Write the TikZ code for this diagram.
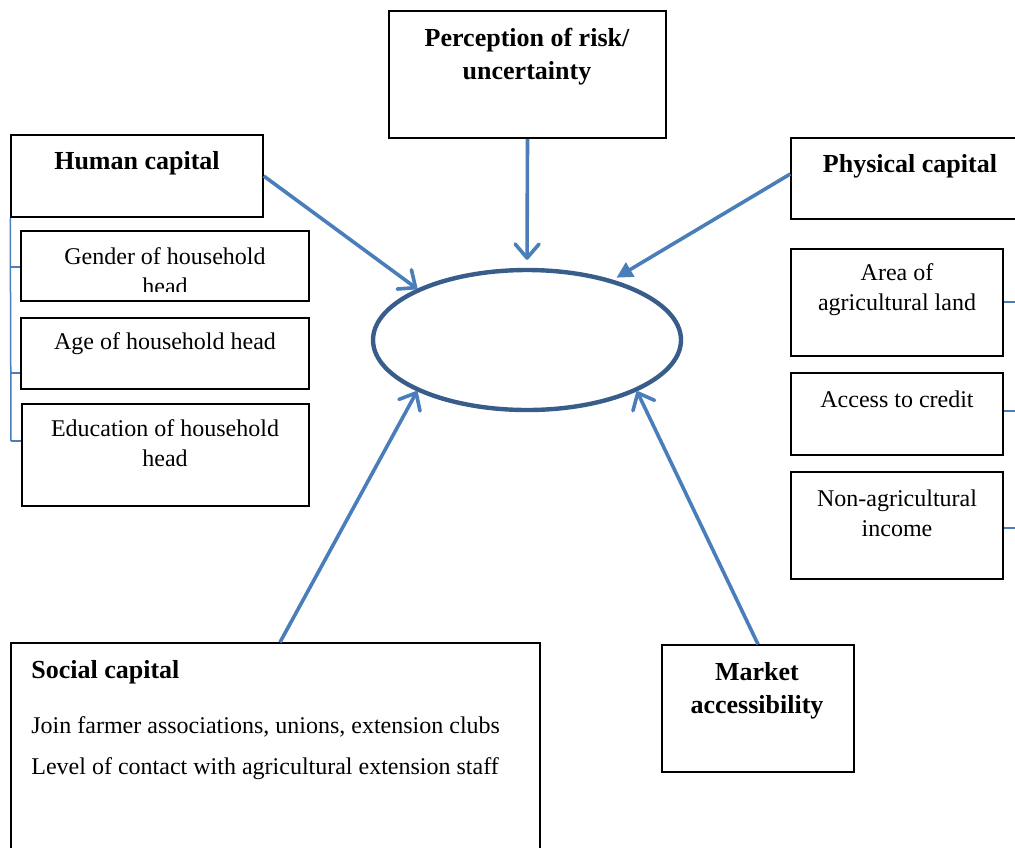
\documentclass[tikz,border=0pt]{standalone}
\usepackage{fontspec}
\setmainfont{Liberation Serif}
\usetikzlibrary{arrows.meta, positioning, fit, shapes.geometric}
\definecolor{arrowblue}{HTML}{4A7EBB}
\definecolor{ringblue}{HTML}{385D8A}

\begin{document}
\begin{tikzpicture}[
    x=0.5pt, y=-0.5pt,
    box/.style={draw, line width=0.75pt, inner sep=0pt},
    head/.style={font=\fontsize{13}{16.5}\selectfont\bfseries, align=center, inner sep=0pt},
    item/.style={font=\fontsize{12}{15}\selectfont, align=center, inner sep=0pt},
    link/.style={draw=arrowblue, line width=1.8pt, -{Straight Barb[length=7pt, width=12pt, round]}},
    tick/.style={draw=arrowblue, line width=0.75pt}
  ]
  \useasboundingbox (0,0) rectangle (1015,847);
  \clip (0,0) rectangle (1015,847);

  % Centre
  \node[ellipse, draw=ringblue, line width=2.2pt, minimum width=154pt, minimum height=70pt] (ring) at (527,340) {};

  % Top: risk
  \node[box, fit={(389,11) (666,138)}] (risk) {};
  \node[head] (riskt) at (527,57) {Perception of risk/\\uncertainty};

  % Left: human capital and its items
  \node[box, fit={(11,135) (263,217)}] (human) {};
  \node[head] (humant) at (137,163) {Human capital};

  \node[box, fit={(21,231) (309,301)}] (gender) {};
  \begin{scope}
    \clip (21,231) rectangle (309,291);
    \node[item] (gendert) at (165,271) {Gender of household\\head};
  \end{scope}
  \node[box, fit={(21,318) (309,389)}] (age) {};
  \node[item] (aget) at (165,344) {Age of household head};
  \node[box, fit={(22,404) (309,506)}] (edu) {};
  \node[item] (edut) at (165,443) {Education of household\\head};

  \draw[tick] (human.south west) -- (11,441);
  \draw[tick] (11,267) -- (gender.west |- 0,267);
  \draw[tick] (11,373) -- (age.west |- 0,373);
  \draw[tick] (11,441) -- (edu.west |- 0,441);

  % Right: physical capital and its items
  \node[box, fit={(791,138) (1030,219)}] (physical) {};
  \node[head] (physicalt) at (910,166) {Physical capital};

  \node[box, fit={(791,249) (1003,356)}] (land) {};
  \node[item] (landt) at (897,290) {Area of\\agricultural land};
  \node[box, fit={(791,373) (1003,455)}] (credit) {};
  \node[item] (creditt) at (897,399) {Access to credit};
  \node[box, fit={(791,472) (1003,579)}] (income) {};
  \node[item] (incomet) at (897,513) {Non-agricultural\\income};

  \draw[tick] (land.east |- 0,302) -- ++(20,0);
  \draw[tick] (credit.east |- 0,411) -- ++(20,0);
  \draw[tick] (income.east |- 0,528) -- ++(20,0);

  % Bottom: social capital and market
  \node[box, fit={(11,643) (540,860)}] (social) {};
  \node[head, anchor=west] (socialt) at (31,672) {Social capital};
  \node[item, anchor=west] (join) at (31,727) {Join farmer associations, unions, extension clubs};
  \node[item, anchor=west] (contact) at (31,769) {Level of contact with agricultural extension staff};

  \node[box, fit={(662,645) (854,772)}] (market) {};
  \node[head] (markett) at (757,691) {Market\\accessibility};

  % Arrows into the centre
  \draw[link] (human.east) -- (ring.155);
  \draw[link, shorten >=4pt] (risk.south) -- (ring.north);
  \draw[link, -{Triangle[length=8pt, width=8pt]}, shorten >=2pt] (physical.west |- 0,174) -- (ring.35);
  \draw[link] (social.north -| 280,0) -- (ring.205);
  \draw[link] (market.north) -- (ring.335);
\end{tikzpicture}
\end{document}
